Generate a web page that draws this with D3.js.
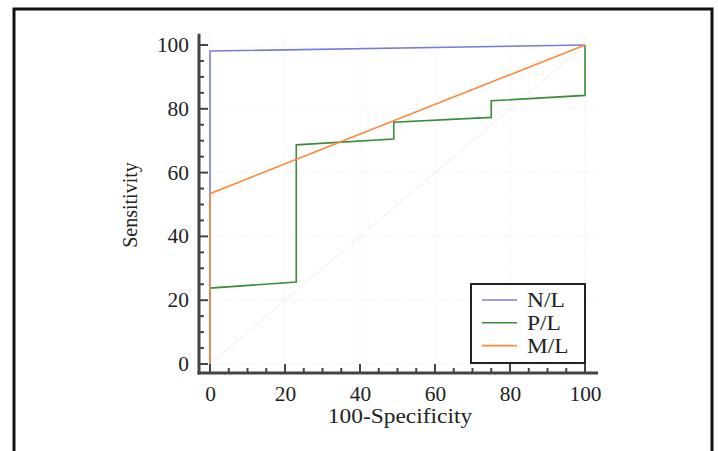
<!DOCTYPE html>
<html>
<head>
<meta charset="utf-8">
<script src="https://cdn.jsdelivr.net/npm/d3@7"></script>
<style>
  body { margin: 0; background: #fff; }
  svg { display: block; }
</style>
</head>
<body>
<svg id="chart" width="718" height="451"></svg>
<script>
// ROC curves
var seriesNames = ["N/L", "P/L", "M/L"];
var seriesColors = ["#7b7bd4", "#3b8b3b", "#ff8a3d"];

var nlX = [0, 0, 100];
var nlY = [0, 98.1, 100];

var plX = [0, 0, 23, 23, 49, 49, 75, 75, 100, 100];
var plY = [0, 23.8, 25.7, 68.7, 70.5, 75.8, 77.3, 82.5, 84.2, 100];

var mlX = [0, 0, 100];
var mlY = [0, 53.4, 100];

var xTicks = [0, 20, 40, 60, 80, 100];
var yTicks = [0, 20, 40, 60, 80, 100];
var minorTicks = d3.range(0, 101, 5);

var svg = d3.select("#chart");

// the original text looks a bit wider than plain Liberation Serif
function widen(sel, k) {
  sel.each(function(){
    var w = this.getComputedTextLength();
    d3.select(this).attr("textLength", w * k).attr("lengthAdjust", "spacingAndGlyphs");
  });
}

// outer frame (bottom edge is cut off in the original)
svg.append("path")
   .attr("d", "M14,451 L14,9 L712,9 L712,451")
   .attr("fill", "none")
   .attr("stroke", "#111")
   .attr("stroke-width", 3);

var x = d3.scaleLinear().domain([0, 100]).range([210, 585]);
var y = d3.scaleLinear().domain([0, 100]).range([364, 45]);

// grid, dotted and faint
var grid = svg.append("g");
grid.selectAll(".gx").data(xTicks).enter().append("line")
    .attr("x1", d => x(d)).attr("x2", d => x(d))
    .attr("y1", y(103)).attr("y2", y(-2.8))
    .attr("stroke", "#e6e6e6").attr("stroke-dasharray", "1,2");
grid.selectAll(".gy").data(yTicks).enter().append("line")
    .attr("x1", x(-1.5)).attr("x2", x(103.5))
    .attr("y1", d => y(d)).attr("y2", d => y(d))
    .attr("stroke", "#e6e6e6").attr("stroke-dasharray", "1,2");

// reference diagonal
svg.append("line")
   .attr("x1", x(0)).attr("y1", y(0))
   .attr("x2", x(100)).attr("y2", y(100))
   .attr("stroke", "#ead6d6").attr("stroke-dasharray", "1.5,1.5");

// curves
var line = d3.line().x(d => x(d[0])).y(d => y(d[1]));
var curves = [
  d3.zip(nlX, nlY),
  d3.zip(plX, plY),
  d3.zip(mlX, mlY)
];
// draw green first so that orange/blue sit on top like in the picture
[1, 0, 2].forEach(function(i){
  svg.append("path")
     .datum(curves[i])
     .attr("d", line)
     .attr("fill", "none")
     .attr("stroke", seriesColors[i])
     .attr("stroke-width", 1.6);
});

// axes
var axisColor = "#444";
var xAxis = d3.axisBottom(x).tickValues(xTicks).tickSize(0).tickPadding(14);
var gx = svg.append("g").attr("transform", "translate(0,373)").call(xAxis);
gx.select(".domain").remove();
gx.selectAll("text").attr("font-family", "Liberation Serif").attr("font-size", 20).attr("fill", "#222");
widen(gx.selectAll("text"), 1.07);

var yAxis = d3.axisLeft(y).tickValues(yTicks).tickSize(0).tickPadding(10);
var gy = svg.append("g").attr("transform", "translate(199,0)").call(yAxis);
gy.select(".domain").remove();
gy.selectAll("text").attr("font-family", "Liberation Serif").attr("font-size", 20).attr("fill", "#222");
widen(gy.selectAll("text"), 1.07);

// axis lines
svg.append("line").attr("x1", 199).attr("x2", 199).attr("y1", y(103.5)).attr("y2", 374.5)
   .attr("stroke", axisColor).attr("stroke-width", 3);
svg.append("line").attr("x1", 197.5).attr("x2", x(103.5)).attr("y1", 373).attr("y2", 373)
   .attr("stroke", axisColor).attr("stroke-width", 3);

// inward ticks, major every 20 and minor every 5
svg.selectAll(".tx").data(minorTicks).enter().append("line")
   .attr("x1", d => x(d)).attr("x2", d => x(d))
   .attr("y1", 373).attr("y2", d => d % 20 === 0 ? 364 : 368)
   .attr("stroke", axisColor).attr("stroke-width", 2);
svg.selectAll(".ty").data(minorTicks).enter().append("line")
   .attr("y1", d => y(d)).attr("y2", d => y(d))
   .attr("x1", 199).attr("x2", d => d % 20 === 0 ? 208 : 204)
   .attr("stroke", axisColor).attr("stroke-width", 2);

// axis titles
var xTitle = svg.append("text")
   .attr("x", 400).attr("y", 423)
   .attr("text-anchor", "middle")
   .attr("font-family", "Liberation Serif").attr("font-size", 20).attr("fill", "#222")
   .text("100-Specificity");
widen(xTitle, 1.17);
svg.append("text")
   .attr("transform", "translate(137,205) rotate(-90)")
   .attr("text-anchor", "middle")
   .attr("font-family", "Liberation Serif").attr("font-size", 20).attr("fill", "#222")
   .text("Sensitivity");

// legend
var legend = svg.append("g");
legend.append("rect")
      .attr("x", 471).attr("y", 284).attr("width", 114).attr("height", 79)
      .attr("fill", "#fff").attr("stroke", "#222").attr("stroke-width", 2);
seriesNames.forEach(function(name, i){
  var ly = 300 + i * 22.8;
  legend.append("line")
        .attr("x1", 482).attr("x2", 517).attr("y1", ly).attr("y2", ly)
        .attr("stroke", seriesColors[i]).attr("stroke-width", 1.6);
  var t = legend.append("text")
        .attr("x", 527).attr("y", ly + 7)
        .attr("font-family", "Liberation Serif").attr("font-size", 20).attr("fill", "#222")
        .text(name);
  widen(t, 1.17);
});
</script>
</body>
</html>
